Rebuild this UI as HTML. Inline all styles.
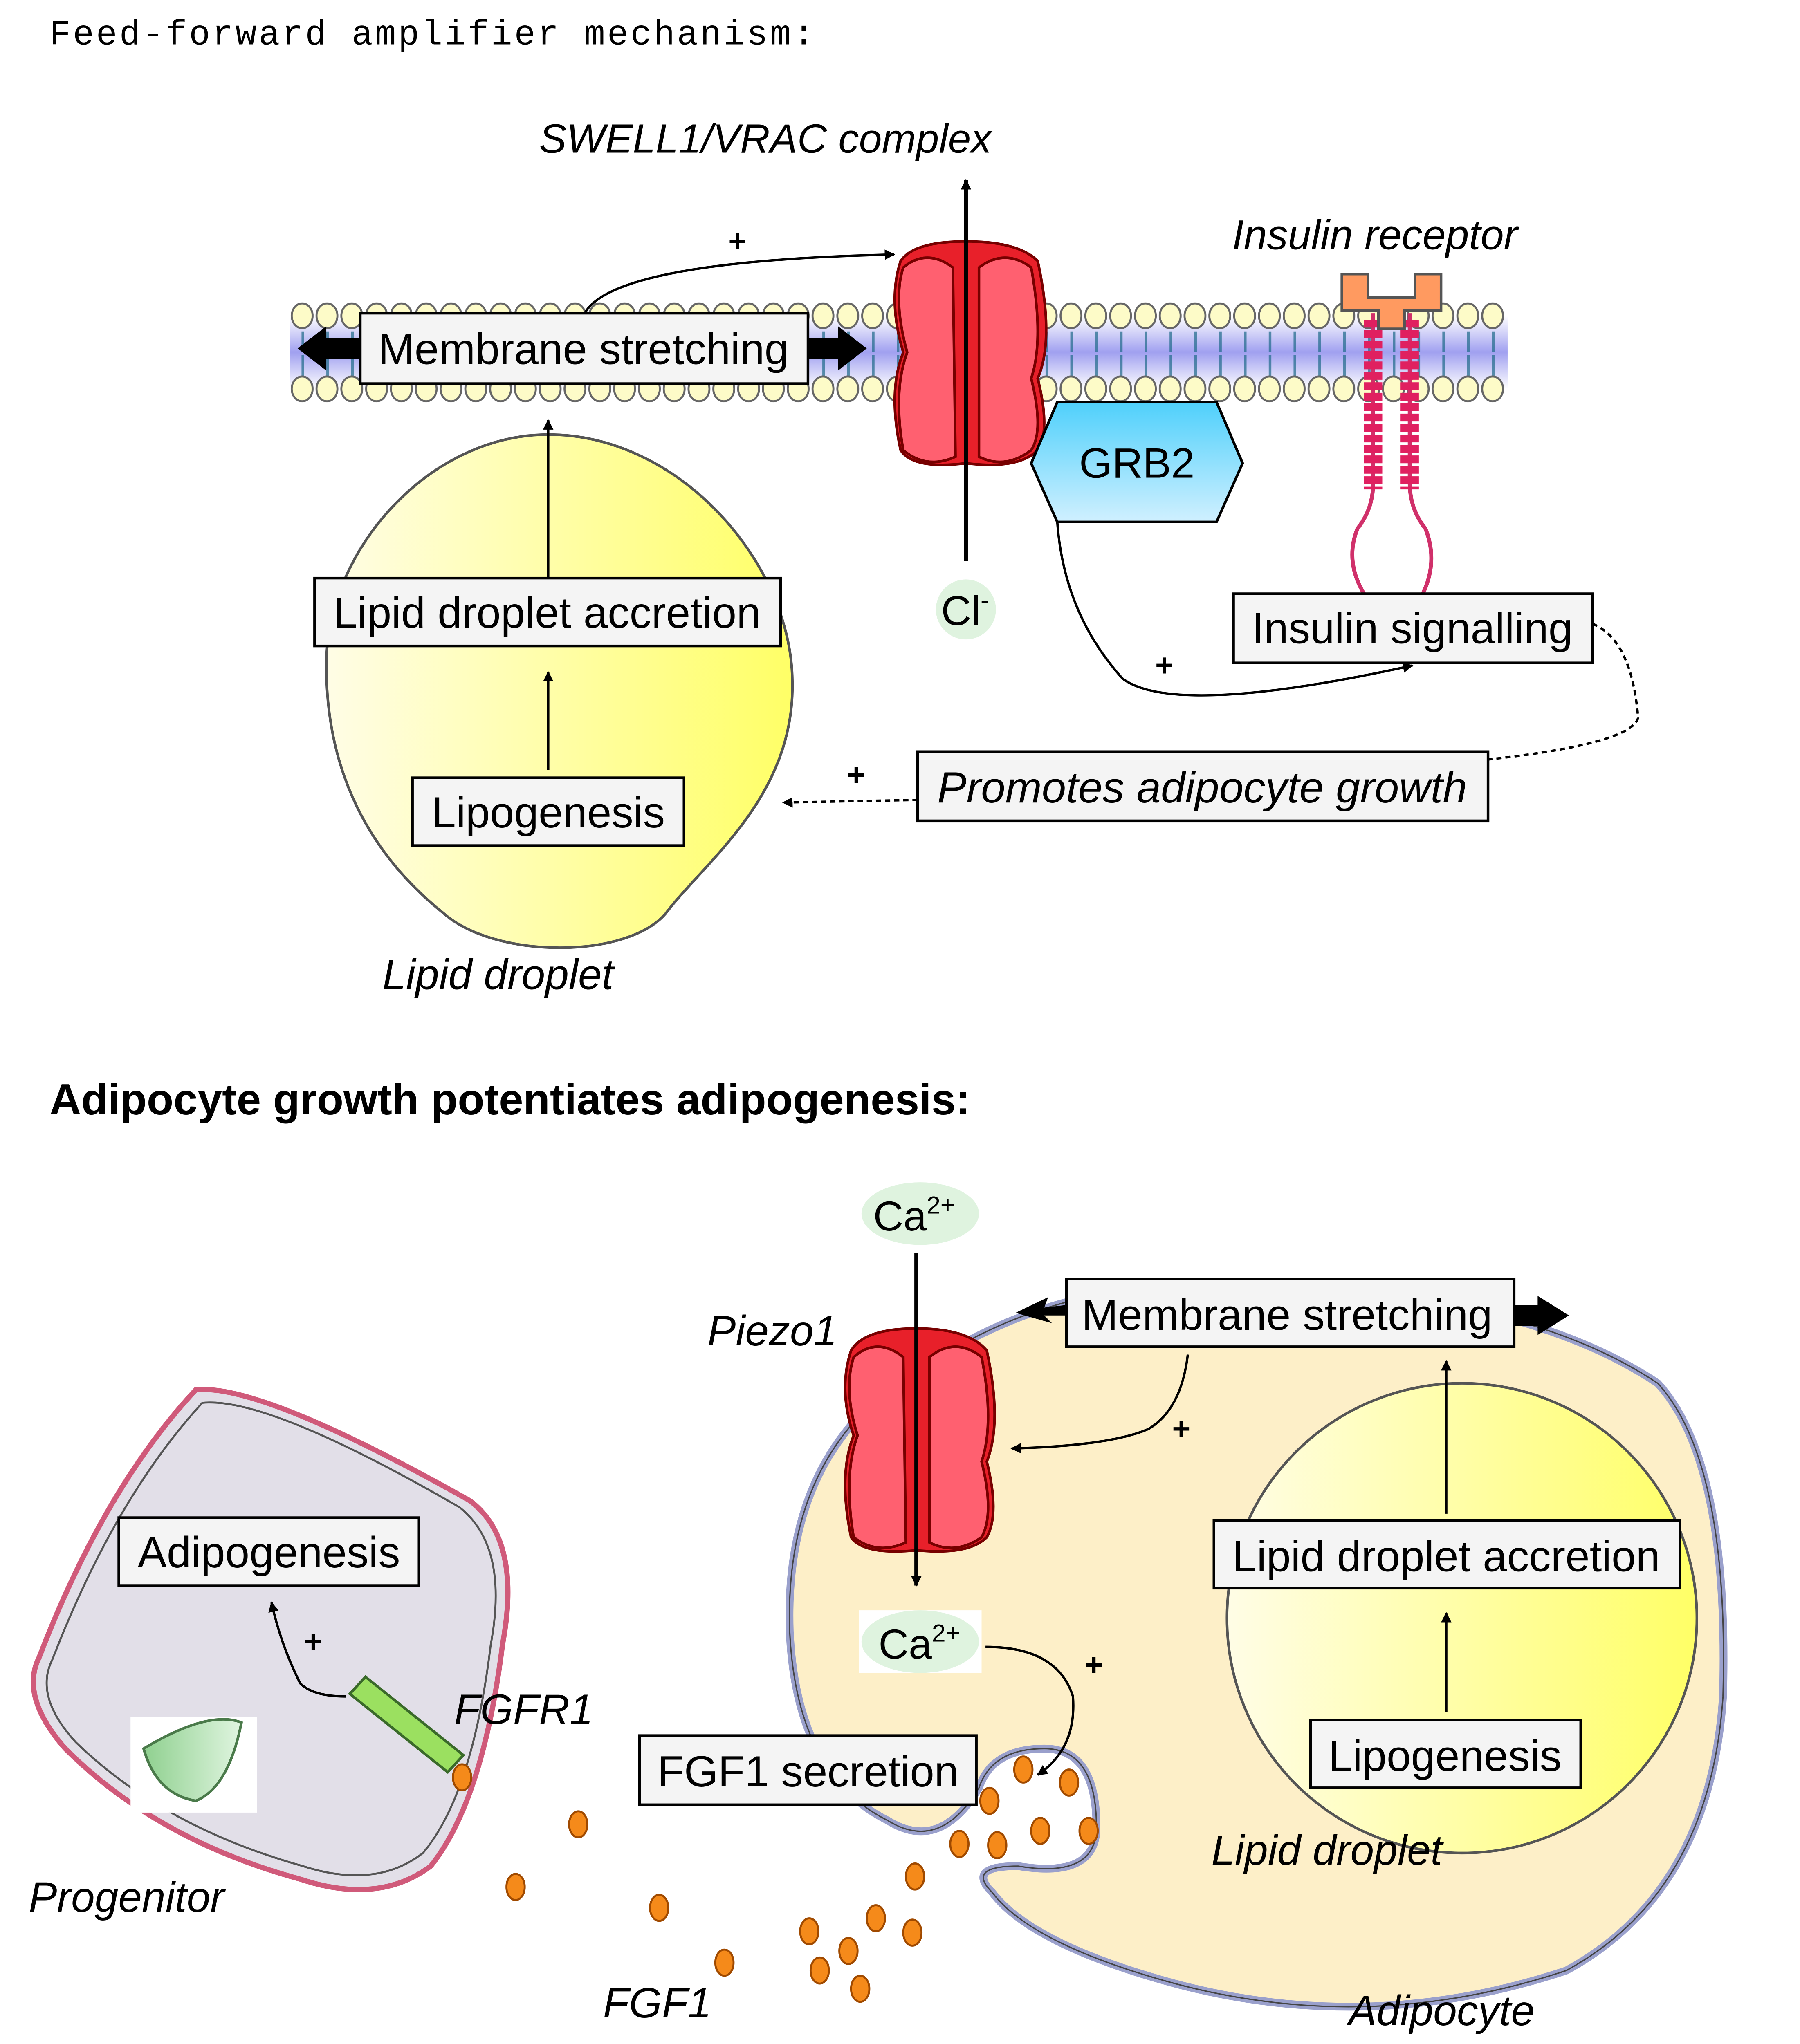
<!DOCTYPE html>
<html><head><meta charset="utf-8"><style>html,body{margin:0;padding:0;background:#fff;width:4402px;height:5193px;overflow:hidden}svg{display:block;position:absolute;left:0;top:0}</style></head>
<body>
<svg width="4402" height="5193" viewBox="0 0 1379 1626" preserveAspectRatio="xMinYMin meet" xmlns="http://www.w3.org/2000/svg" font-family="Liberation Sans, Arial, sans-serif">
<defs>
<linearGradient id="ly" x1="0" x2="1"><stop offset="0" stop-color="#fffde6"/><stop offset="1" stop-color="#ffff66"/></linearGradient>
<linearGradient id="mem" x1="0" y1="0" x2="0" y2="1"><stop offset="0" stop-color="#fff"/><stop offset="0.5" stop-color="#a0a0f0"/><stop offset="1" stop-color="#fff"/></linearGradient>
<linearGradient id="grb" x1="0" y1="0" x2="0" y2="1"><stop offset="0" stop-color="#4fd0fb"/><stop offset="1" stop-color="#d0f0ff"/></linearGradient>
<linearGradient id="leaf" x1="0" x2="1"><stop offset="0" stop-color="#8fd08f"/><stop offset="1" stop-color="#e0f5e0"/></linearGradient>
<pattern id="h1" x="222" y="231" width="19" height="22" patternUnits="userSpaceOnUse">
<ellipse cx="9.5" cy="11" rx="8" ry="9.5" fill="#fdfbc8" stroke="#666" stroke-width="1.5"/>
</pattern>
<pattern id="h2" x="222" y="287" width="19" height="22" patternUnits="userSpaceOnUse">
<ellipse cx="9.5" cy="11" rx="8" ry="9.5" fill="#fdfbc8" stroke="#666" stroke-width="1.5"/>
</pattern>
<marker id="ah" viewBox="0 0 10 10" refX="9" refY="5" markerWidth="8" markerHeight="8" orient="auto-start-reverse" markerUnits="userSpaceOnUse"><path d="M0,0 L10,5 L0,10z" fill="#000"/></marker>
</defs>

<text x="38" y="34" font-family="Liberation Mono, monospace" font-size="27" letter-spacing="1.6">Feed-forward amplifier mechanism:</text>

<rect x="222" y="242" width="933" height="56" fill="url(#mem)"/>
<g stroke="#1f6a8a" stroke-width="1.5" opacity="0.7">
<line x1="222" y1="262" x2="1150" y2="262" stroke-dasharray="2 17" stroke-width="16" transform="translate(9,0)"/>
<line x1="222" y1="280" x2="1150" y2="280" stroke-dasharray="2 17" stroke-width="16" transform="translate(9,0)"/>
</g>
<rect x="222" y="231" width="931" height="22" fill="url(#h1)"/>
<rect x="222" y="287" width="931" height="22" fill="url(#h2)"/>

<path d="M420,333 C520,333 605,430 607,520 C610,610 540,660 510,700 C480,735 380,735 340,700 C290,660 250,600 250,510 C250,420 330,333 420,333z" fill="url(#ly)" stroke="#555" stroke-width="2"/>
<text x="293" y="758" font-size="32.5" font-style="italic">Lipid droplet</text>

<g stroke="#700" stroke-width="2">
<path d="M690,200 Q700,185 740,185 Q780,185 795,200 Q808,260 795,290 Q805,330 795,345 Q780,360 740,355 Q700,360 690,345 Q680,300 692,270 Q680,230 690,200z" fill="#e8202a"/>
<path d="M692,205 Q710,190 730,205 L732,350 Q710,360 692,345 Q684,300 695,270 Q684,230 692,205z" fill="#ff6070"/>
<path d="M750,205 Q770,190 790,205 Q800,260 790,290 Q800,330 790,345 Q770,360 750,350z" fill="#ff6070"/>
</g>
<line x1="740" y1="430" x2="740" y2="138" stroke="#000" stroke-width="3" marker-end="url(#ah)"/>
<text x="413" y="117" font-size="31.5" font-style="italic">SWELL1/VRAC complex</text>
<ellipse cx="740" cy="467" rx="23" ry="23" fill="#dff3df"/>
<text x="721" y="479" font-size="32">Cl<tspan font-size="19" dy="-13">-</tspan></text>

<polygon points="810,308 932,308 952,355 932,400 810,400 790,355" fill="url(#grb)" stroke="#000" stroke-width="2"/>
<text x="871" y="366" font-size="32.5" text-anchor="middle">GRB2</text>

<g fill="none" stroke="#d0306a" stroke-width="3">
<path d="M1052,240 L1052,370 Q1052,390 1040,405 Q1030,430 1045,455"/>
<path d="M1080,240 L1080,370 Q1080,390 1092,405 Q1102,430 1090,455"/>
</g>
<g stroke="#e02060" stroke-width="14" stroke-dasharray="6 2"><line x1="1052" y1="245" x2="1052" y2="375"/><line x1="1080" y1="245" x2="1080" y2="375"/></g>
<path d="M1028,210 L1048,210 L1048,228 L1084,228 L1084,210 L1104,210 L1104,238 L1076,238 L1076,252 L1056,252 L1056,238 L1028,238z" fill="#ff9a60" stroke="#555" stroke-width="2"/>
<text x="944" y="191" font-size="32" font-style="italic">Insulin receptor</text>

<g fill="#f4f4f4" stroke="#000" stroke-width="2">
<rect x="276" y="240" width="343" height="54"/>
<rect x="241" y="443" width="357" height="52"/>
<rect x="316" y="596" width="208" height="52"/>
<rect x="945" y="455" width="275" height="53"/>
<rect x="703" y="576" width="437" height="53"/>
</g>
<text x="447" y="279" font-size="33.5" text-anchor="middle">Membrane stretching</text>
<text x="419" y="481" font-size="33.5" text-anchor="middle">Lipid droplet accretion</text>
<text x="420" y="634" font-size="33.5" text-anchor="middle">Lipogenesis</text>
<text x="1082" y="493" font-size="33.5" text-anchor="middle">Insulin signalling</text>
<text x="921" y="615" font-size="33.5" text-anchor="middle" font-style="italic">Promotes adipocyte growth</text>

<polygon points="276,259 250,259 250,250 228,267 250,284 250,275 276,275" fill="#000"/>
<polygon points="619,259 642,259 642,250 664,267 642,284 642,275 619,275" fill="#000"/>

<g fill="none" stroke="#000" stroke-width="1.8">
<path d="M448,240 Q470,200 685,195" marker-end="url(#ah)"/>
<line x1="420" y1="443" x2="420" y2="322" marker-end="url(#ah)"/>
<line x1="420" y1="590" x2="420" y2="515" marker-end="url(#ah)"/>
<path d="M810,400 Q815,470 860,520 Q900,550 1082,510" marker-end="url(#ah)"/>
<path d="M1220,478 Q1250,490 1255,550 Q1250,570 1140,582" stroke-dasharray="4 3"/>
<line x1="703" y1="613" x2="600" y2="615" stroke-dasharray="4 3" marker-end="url(#ah)"/>
</g>
<text x="565" y="193" font-size="24" font-weight="bold" text-anchor="middle">+</text>
<text x="892" y="518" font-size="24" font-weight="bold" text-anchor="middle">+</text>
<text x="656" y="602" font-size="24" font-weight="bold" text-anchor="middle">+</text>

<text x="38" y="854" font-size="33.5" font-weight="bold">Adipocyte growth potentiates adipogenesis:</text>

<path d="M720,1040 Q800,990 900,985 Q1150,980 1270,1060 Q1325,1120 1320,1300 Q1310,1450 1200,1510 Q1050,1560 900,1520 Q790,1490 760,1450 Q740,1430 780,1430 Q840,1440 840,1400 Q840,1340 800,1340 Q760,1340 750,1370 Q720,1420 680,1395 Q610,1360 605,1250 Q600,1100 720,1040z" fill="#fdefc8" stroke="#9aa0cc" stroke-width="6"/>
<path d="M720,1040 Q800,990 900,985 Q1150,980 1270,1060 Q1325,1120 1320,1300 Q1310,1450 1200,1510 Q1050,1560 900,1520 Q790,1490 760,1450 Q740,1430 780,1430 Q840,1440 840,1400 Q840,1340 800,1340 Q760,1340 750,1370 Q720,1420 680,1395 Q610,1360 605,1250 Q600,1100 720,1040z" fill="none" stroke="#444" stroke-width="1"/>
<circle cx="1120" cy="1240" r="180" fill="url(#ly)" stroke="#555" stroke-width="2"/>
<text x="928" y="1429" font-size="32.5" font-style="italic">Lipid droplet</text>
<text x="1033" y="1552" font-size="32.5" font-style="italic">Adipocyte</text>

<g stroke="#700" stroke-width="2">
<path d="M652,1035 Q662,1018 702,1018 Q742,1018 756,1035 Q768,1090 756,1120 Q766,1160 756,1178 Q742,1192 702,1188 Q662,1192 652,1178 Q642,1130 654,1100 Q642,1065 652,1035z" fill="#e8202a"/>
<path d="M654,1040 Q672,1024 692,1040 L694,1182 Q672,1192 654,1178 Q646,1130 657,1100 Q646,1065 654,1040z" fill="#ff6070"/>
<path d="M712,1040 Q732,1024 752,1040 Q762,1090 752,1120 Q762,1160 752,1178 Q732,1192 712,1182z" fill="#ff6070"/>
</g>
<line x1="702" y1="960" x2="702" y2="1215" stroke="#000" stroke-width="3" marker-end="url(#ah)"/>
<text x="542" y="1031" font-size="32.5" font-style="italic">Piezo1</text>
<ellipse cx="705" cy="930" rx="45" ry="24" fill="#dff3df"/>
<text x="669" y="943" font-size="32">Ca<tspan font-size="19" dy="-13">2+</tspan></text>
<rect x="658" y="1234" width="94" height="48" fill="#fff"/>
<ellipse cx="705" cy="1258" rx="45" ry="24" fill="#dff3df"/>
<text x="673" y="1271" font-size="32">Ca<tspan font-size="19" dy="-13">2+</tspan></text>

<path d="M150,1065 Q200,1060 360,1150 Q400,1180 385,1260 Q370,1380 330,1430 Q290,1460 230,1440 Q120,1410 50,1340 Q15,1300 30,1270 Q80,1140 150,1065z" fill="#e2dfe8" stroke="#d05a7a" stroke-width="4"/>
<path d="M155,1075 Q205,1070 352,1155 Q390,1185 376,1260 Q362,1375 324,1420 Q288,1448 232,1430 Q125,1400 58,1335 Q26,1300 40,1272 Q88,1148 155,1075z" fill="none" stroke="#555" stroke-width="1.5"/>
<rect x="100" y="1316" width="97" height="73" fill="#fff"/>
<path d="M110,1340 Q160,1310 185,1320 Q175,1370 150,1380 Q120,1375 110,1340z" fill="url(#leaf)" stroke="#4a7a4a" stroke-width="2"/>
<text x="22" y="1465" font-size="32.5" font-style="italic">Progenitor</text>
<polygon points="268,1298 280,1285 355,1345 343,1358" fill="#9be060" stroke="#3a6a2a" stroke-width="2"/>
<text x="348" y="1321" font-size="32.5" font-style="italic">FGFR1</text>

<g fill="#f58a1a" stroke="#a04a00" stroke-width="1.5">
<ellipse cx="354" cy="1362" rx="7" ry="10"/><ellipse cx="443" cy="1398" rx="7" ry="10"/><ellipse cx="395" cy="1446" rx="7" ry="10"/>
<ellipse cx="505" cy="1462" rx="7" ry="10"/><ellipse cx="555" cy="1504" rx="7" ry="10"/><ellipse cx="620" cy="1480" rx="7" ry="10"/>
<ellipse cx="628" cy="1510" rx="7" ry="10"/><ellipse cx="650" cy="1495" rx="7" ry="10"/><ellipse cx="659" cy="1524" rx="7" ry="10"/>
<ellipse cx="671" cy="1470" rx="7" ry="10"/><ellipse cx="699" cy="1481" rx="7" ry="10"/><ellipse cx="701" cy="1438" rx="7" ry="10"/>
<ellipse cx="735" cy="1413" rx="7" ry="10"/><ellipse cx="764" cy="1414" rx="7" ry="10"/><ellipse cx="758" cy="1380" rx="7" ry="10"/>
<ellipse cx="784" cy="1356" rx="7" ry="10"/><ellipse cx="797" cy="1403" rx="7" ry="10"/><ellipse cx="819" cy="1366" rx="7" ry="10"/>
<ellipse cx="834" cy="1403" rx="7" ry="10"/>
</g>
<text x="462" y="1546" font-size="32.5" font-style="italic">FGF1</text>

<g fill="#f4f4f4" stroke="#000" stroke-width="2">
<rect x="817" y="980" width="343" height="52"/>
<rect x="930" y="1165" width="357" height="52"/>
<rect x="1004" y="1318" width="207" height="52"/>
<rect x="91" y="1163" width="230" height="52"/>
<rect x="490" y="1330" width="258" height="53"/>
</g>
<text x="986" y="1019" font-size="33.5" text-anchor="middle">Membrane stretching</text>
<text x="1108" y="1204" font-size="33.5" text-anchor="middle">Lipid droplet accretion</text>
<text x="1107" y="1357" font-size="33.5" text-anchor="middle">Lipogenesis</text>
<text x="206" y="1201" font-size="33.5" text-anchor="middle">Adipogenesis</text>
<text x="619" y="1369" font-size="33.5" text-anchor="middle">FGF1 secretion</text>
<polygon points="1160,1000 1178,1000 1178,993 1202,1008 1178,1023 1178,1016 1160,1016" fill="#000"/>
<polygon points="817,1000 800,1002 803,994 778,1006 806,1014 800,1008 817,1008" fill="#000"/>

<g fill="none" stroke="#000" stroke-width="1.8">
<path d="M910,1038 Q905,1080 880,1095 Q850,1108 775,1110" marker-end="url(#ah)"/>
<line x1="1108" y1="1160" x2="1108" y2="1043" marker-end="url(#ah)"/>
<line x1="1108" y1="1312" x2="1108" y2="1236" marker-end="url(#ah)"/>
<path d="M755,1262 Q810,1262 822,1300 Q825,1340 795,1360" marker-end="url(#ah)"/>
<path d="M265,1300 Q240,1300 230,1290 Q215,1260 208,1228" marker-end="url(#ah)"/>
</g>
<text x="905" y="1103" font-size="24" font-weight="bold" text-anchor="middle">+</text>
<text x="838" y="1284" font-size="24" font-weight="bold" text-anchor="middle">+</text>
<text x="240" y="1266" font-size="24" font-weight="bold" text-anchor="middle">+</text>
</svg>
</body></html>
